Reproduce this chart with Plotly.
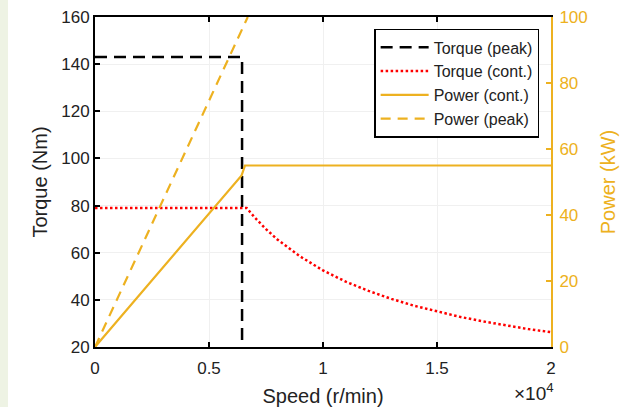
import plotly.graph_objects as go

# ---- data ----
speed_torque_peak = [0, 6450, 6450]
torque_peak = [143, 143, 20]

speed_torque_cont = [0, 6650, 7000, 7500, 8000, 9000, 10000, 11000, 12000, 13000,
                     14000, 15000, 16000, 17000, 18000, 19000, 20000]
torque_cont = [79, 79, 75, 70, 65.6, 58.4, 52.5, 47.7, 43.8, 40.4,
               37.5, 35.0, 32.8, 30.9, 29.2, 27.6, 26.3]

speed_power_cont = [0, 6430, 6580, 20000]
power_cont = [0, 52, 55, 55]

speed_power_peak = [0, 6700]
power_peak = [0, 100]

x_tickvals = [0, 5000, 10000, 15000, 20000]
x_ticktext = ["0", "0.5", "1", "1.5", "2"]
y_left_ticks = [20, 40, 60, 80, 100, 120, 140, 160]
y_right_ticks = [0, 20, 40, 60, 80, 100]

YEL = "#EDB120"
FONT = "Arial, Liberation Sans, sans-serif"

fig = go.Figure()
fig.add_trace(go.Scatter(x=speed_torque_peak, y=torque_peak, mode="lines",
                         name="Torque (peak)",
                         line=dict(color="black", width=2.5, dash="12px,7px")))
fig.add_trace(go.Scatter(x=speed_torque_cont, y=torque_cont, mode="lines",
                         name="Torque (cont.)",
                         line=dict(color="#FF0000", width=2.5, dash="2.5px,2.5px")))
fig.add_trace(go.Scatter(x=speed_power_cont, y=power_cont, mode="lines",
                         name="Power (cont.)", yaxis="y2",
                         line=dict(color=YEL, width=2.2)))
fig.add_trace(go.Scatter(x=speed_power_peak, y=power_peak, mode="lines",
                         name="Power (peak)", yaxis="y2",
                         line=dict(color=YEL, width=2.2, dash="10px,7px")))

fig.update_layout(
    width=626, height=407,
    margin=dict(l=95, r=75, t=17, b=60),
    paper_bgcolor="white", plot_bgcolor="white",
    font=dict(family=FONT, size=17, color="#222"),
    showlegend=True,
    legend=dict(x=0.974, y=0.964, xanchor="right", yanchor="top",
                bgcolor="white", bordercolor="black", borderwidth=1.5,
                font=dict(size=16, color="#222"), itemwidth=48,
                tracegroupgap=0),
    xaxis=dict(range=[0, 20000], tickvals=x_tickvals, ticktext=x_ticktext,
               showline=True, linecolor="black", linewidth=2, mirror="ticks",
               ticks="inside", ticklen=5, tickwidth=1.5, tickcolor="black",
               ticklabelstandoff=5, automargin=False,
               showgrid=True, gridcolor="#f0f0f0", gridwidth=1, zeroline=False,
               title=dict(text="Speed (r/min)", font=dict(size=20), standoff=12)),
    yaxis=dict(range=[20, 160], tickvals=y_left_ticks, automargin=False,
               showline=True, linecolor="black", linewidth=2,
               ticks="inside", ticklen=5, tickwidth=1.5, tickcolor="black",
               showgrid=True, gridcolor="#f0f0f0", gridwidth=1, zeroline=False,
               title=dict(text="Torque (Nm)", font=dict(size=20), standoff=8)),
    yaxis2=dict(range=[0, 100], tickvals=y_right_ticks, overlaying="y", side="right",
                showline=True, linecolor=YEL, linewidth=2, automargin=False,
                ticks="inside", ticklen=5, tickwidth=1.5, tickcolor=YEL,
                tickfont=dict(color=YEL), showgrid=False, zeroline=False,
                ticklabelstandoff=3,
                title=dict(text="Power (kW)", font=dict(size=20, color=YEL), standoff=14)),
    shapes=[dict(type="rect", xref="paper", yref="paper", x0=-95/456, x1=-87/456,
                 y0=-60/330, y1=(330+17)/330, fillcolor="#eef3e4", line=dict(width=0),
                 layer="below")],
    annotations=[dict(text="×10<sup>4</sup>", xref="paper", yref="paper",
                      x=1.01, y=-0.178, xanchor="right", yanchor="bottom",
                      showarrow=False, font=dict(size=19, color="#222"))],
)

fig.write_html("out.html")
